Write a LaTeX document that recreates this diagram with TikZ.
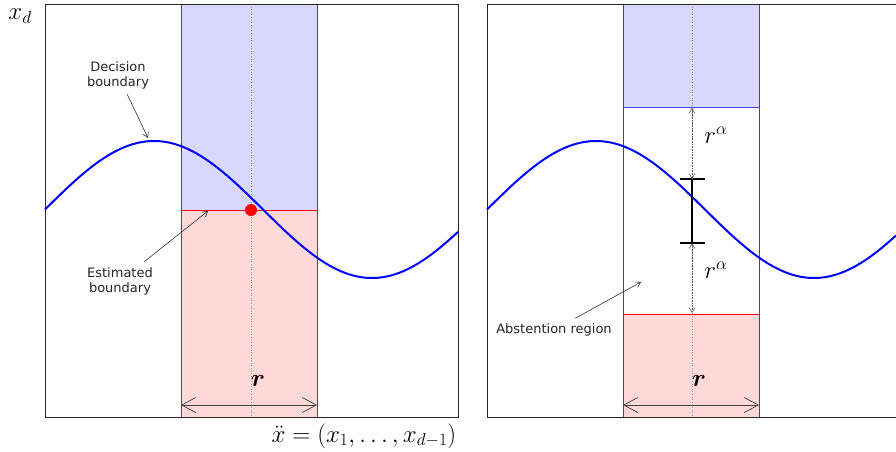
\documentclass[tikz,border=0pt]{standalone}
\usepackage{amsmath,amssymb}
\usepackage{fontspec}
\newfontfamily\lblfont{DejaVu Sans}
\usetikzlibrary{arrows.meta}
\definecolor{zoneb}{RGB}{216,216,255}
\definecolor{zoner}{RGB}{255,216,216}

\begin{document}
\begin{tikzpicture}[x=1pt,y=-1pt,line width=.8pt,
  lbl/.style={font=\lblfont\fontsize{13}{15}\selectfont,align=center,text=black!85,inner sep=5pt},
  annot/.style={draw=black!80,line width=.6pt,-{Straight Barb[length=5pt,width=6pt]}},
  span/.style={draw=black!75,line width=.7pt,
    {Straight Barb[length=14pt,width=15pt]}-{Straight Barb[length=14pt,width=15pt]}},
  gap/.style={draw=black!65,densely dotted,line width=.6pt,
    {Straight Barb[length=5pt,width=6pt]}-{Straight Barb[length=5pt,width=6pt]}},
  rlab/.style={font=\fontsize{24}{26}\selectfont,inner sep=1pt},
  courbe/.style={blue,line width=2pt}]
\useasboundingbox (0,0) rectangle (896,451);
% Panneau de gauche : la bande de largeur r et la frontiere estimee.
\fill[zoneb] (181,4) rectangle (317,210);
\fill[zoner] (181,210) rectangle (317,417);
\draw[red,line width=.6pt] (181,210) -- (317,210);
\draw[black!40,dotted,line width=.6pt] (251,4) -- (251,417);
\draw[black!70] (181,4) -- (181,417);
\draw[black!70] (317,4) -- (317,417);
\draw[black!85] (45,4) rectangle (458,417);
\draw[courbe] plot[domain=45:458,samples=120] (\x,{209.5-68.5*sin(0.825688*(\x-45))});
\fill[red] (251,210) circle[radius=6pt];
\node[lbl] (dec) at (118,75) {Decision\\boundary};
\coordinate (dectip) at (148,138);
\draw[annot] (dec) -- (dectip);
\node[lbl] (est) at (120,281) {Estimated\\boundary};
\coordinate (esttip) at (208,211);
\draw[annot] (est) -- (esttip);
\node[rlab] (rl) at (258,381) {$\boldsymbol{r}$};
\coordinate (rla) at (181,405);
\coordinate (rlb) at (317,405);
\draw[span] (rla) -- (rlb);
% Panneau de droite : la zone d'abstention autour de l'intervalle.
\fill[zoneb] (623,4) rectangle (759,107);
\fill[zoner] (623,314) rectangle (759,417);
\draw[blue!75,line width=.6pt] (623,107) -- (759,107);
\draw[red,line width=.6pt] (623,314) -- (759,314);
\draw[black!40,dotted,line width=.6pt] (692,4) -- (692,417);
\draw[black!70] (623,4) -- (623,417);
\draw[black!70] (759,4) -- (759,417);
\draw[black!85] (896,4) -- (487,4) -- (487,417) -- (896,417);
\draw[courbe] plot[domain=487:896,samples=120] (\x,{209.5-68.5*sin(0.825688*(\x-487))});
\coordinate (ibt) at (692,179);
\coordinate (ibb) at (692,243);
\draw[line width=2pt] (ibt) -- (ibb);
\draw[line width=2pt] (680,179) -- (705,179);
\draw[line width=2pt] (680,243) -- (705,243);
\coordinate (bleu) at (692,108);
\coordinate (rouge) at (692,313);
\draw[gap] (bleu) -- (ibt);
\draw[gap] (ibb) -- (rouge);
\node[rlab] (ra1) at (716,135) {$r^{\alpha}$};
\node[rlab] (ra2) at (716,270) {$r^{\alpha}$};
\node[lbl] (abs) at (554,330) {Abstention region};
\coordinate (abstip) at (641,282);
\draw[annot] (abs) -- (abstip);
\node[rlab] (rr) at (699,381) {$\boldsymbol{r}$};
\coordinate (rra) at (623,405);
\coordinate (rrb) at (759,405);
\draw[span] (rra) -- (rrb);
% Axes.
\node[font=\fontsize{23}{25}\selectfont] (xd) at (20,16) {$x_d$};
\node[font=\fontsize{24}{26}\selectfont] (xt) at (364,436) {$\ddot{x}=(x_1,\ldots,x_{d-1})$};
\end{tikzpicture}
\end{document}
